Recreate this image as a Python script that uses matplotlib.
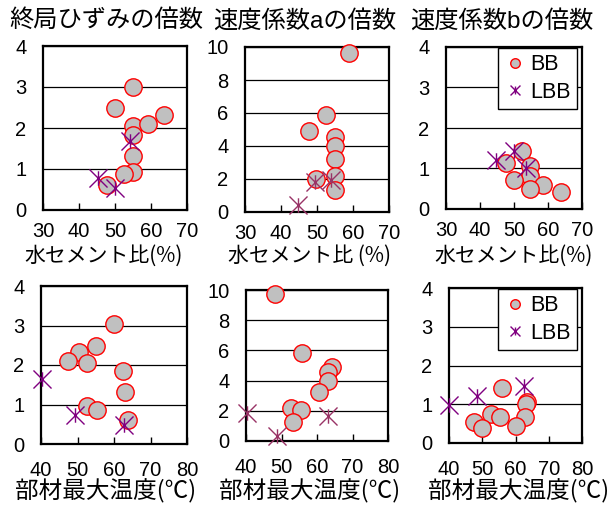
import matplotlib.pyplot as plt
from matplotlib.path import Path

plt.rcParams['font.family'] = ['Liberation Sans', 'Noto Sans CJK JP']

# water-cement ratio (%) vs. multiplier
wc_bb_strain = [55, 50, 55, 59.3, 63.7, 55, 55, 55, 52.5, 47.9]
strain_bb_wc = [3.0, 2.48, 2.05, 2.09, 2.31, 1.83, 1.32, 0.93, 0.89, 0.61]
wc_lbb_strain = [45.2, 50, 54.2]
strain_lbb_wc = [0.79, 0.53, 1.69]

wc_bb_a = [58.9, 52.4, 47.9, 54.9, 54.9, 54.9, 54.9, 49.8, 54.9]
a_bb_wc = [9.64, 5.86, 4.91, 4.55, 4.0, 3.23, 2.16, 1.98, 1.31]
wc_lbb_a = [44.8, 49.4, 53.9]
a_lbb_wc = [0.41, 1.82, 1.92]

wc_bb_b = [52.3, 47.6, 54.7, 54.7, 50.1, 58.6, 54.7, 63.7]
b_bb_wc = [1.44, 1.13, 1.05, 0.82, 0.72, 0.60, 0.50, 0.43]
wc_lbb_b = [44.7, 50.1, 53.5]
b_lbb_wc = [1.21, 1.44, 1.01]

# max member temperature (deg C) vs. multiplier
temp_bb_strain = [60.1, 55, 50.4, 47.3, 52.5, 62.6, 63.1, 52.5, 55.4, 63.7]
strain_bb_t = [3.04, 2.47, 2.32, 2.09, 2.05, 1.84, 1.32, 0.95, 0.87, 0.62]
temp_lbb_strain = [40.3, 49.3, 62.8]
strain_lbb_t = [1.65, 0.74, 0.49]

temp_bb_a = [48.1, 55.7, 64.2, 63.2, 63.1, 60.6, 52.8, 55.4, 53.1]
a_bb_t = [9.71, 5.85, 4.92, 4.55, 3.99, 3.27, 2.21, 2.05, 1.28]
temp_lbb_a = [40.3, 48.6, 63.2]
a_lbb_t = [1.83, 0.35, 1.68]

temp_bb_b = [55.9, 63.5, 63.1, 52.5, 55.4, 62.8, 47.5, 50, 60.1]
b_bb_t = [1.43, 1.07, 1.01, 0.75, 0.66, 0.68, 0.53, 0.40, 0.44]
temp_lbb_b = [40.1, 48.4, 62.6]
b_lbb_t = [0.97, 1.22, 1.46]

titles = ['終局ひずみの倍数', '速度係数aの倍数', '速度係数bの倍数']
wc_labels = ['水セメント比(%)', '水セメント比 (%)', '水セメント比(%)']
temp_label = '部材最大温度(℃)'

# X with a vertical stroke, like the spreadsheet "star" marker
star = Path([(-1, -1), (1, 1), (-1, 1), (1, -1), (0, -0.8), (0, 0.8)],
            [Path.MOVETO, Path.LINETO, Path.MOVETO, Path.LINETO,
             Path.MOVETO, Path.LINETO])

W, H = 610, 508
fig = plt.figure(figsize=(W / 100, H / 100), dpi=100)


def px_axes(left, top, right, bottom):
    return fig.add_axes([left / W, 1 - bottom / H, (right - left) / W, (bottom - top) / H])


def panel(ax, xb, yb, xl, yl, xlim, ylim, yticks, xpad, lbb_color, legend=False):
    ax.plot(xb, yb, 'o', ms=12.5, mfc='#c0c0c0', mec='red', mew=1,
            ls='none', clip_on=False, label='BB', zorder=3)
    ax.plot(xl, yl, marker=star, ms=13, mec=lbb_color, mew=1,
            ls='none', clip_on=False, label='LBB', zorder=4)
    ax.set_xlim(*xlim)
    ax.set_ylim(*ylim)
    ax.set_xticks(range(xlim[0], xlim[1] + 1, 10))
    ax.set_yticks(yticks)
    ax.yaxis.grid(True, color='black', lw=0.9)
    ax.set_axisbelow(True)
    for s in ax.spines.values():
        s.set_linewidth(1.6)
    ax.tick_params(axis='x', direction='in', length=5, width=1, pad=xpad, labelsize=14.5)
    ax.tick_params(axis='y', length=0, pad=12, labelsize=14.5)
    if legend:
        leg = ax.legend(loc='upper right', bbox_to_anchor=(0.965, 0.995), borderaxespad=0,
                        fontsize=15.5, markerscale=0.55, handletextpad=0.2,
                        handlelength=1.0, fancybox=False, framealpha=1,
                        borderpad=0.3, labelspacing=0.3)
        leg.get_frame().set_edgecolor('black')
        leg.get_frame().set_linewidth(1)


# top row: water-cement ratio
ax1 = px_axes(43, 46, 187, 210)
panel(ax1, wc_bb_strain, strain_bb_wc, wc_lbb_strain, strain_lbb_wc,
      (30, 70), (0, 4), range(0, 5), 9, '#800080')
ax2 = px_axes(245, 47, 389, 212)
panel(ax2, wc_bb_a, a_bb_wc, wc_lbb_a, a_lbb_wc,
      (30, 70), (0, 10), range(0, 11, 2), 9, '#993366')
ax3 = px_axes(446, 47, 582, 209)
panel(ax3, wc_bb_b, b_bb_wc, wc_lbb_b, b_lbb_wc,
      (30, 70), (0, 4), range(0, 5), 9, '#800080', legend=True)

# bottom row: max member temperature
ax4 = px_axes(41, 286, 187, 444)
panel(ax4, temp_bb_strain, strain_bb_t, temp_lbb_strain, strain_lbb_t,
      (40, 80), (0, 4), range(0, 5), 12, '#800080')
ax5 = px_axes(246, 290, 388, 441)
panel(ax5, temp_bb_a, a_bb_t, temp_lbb_a, a_lbb_t,
      (40, 80), (0, 10), range(0, 11, 2), 12, '#993366')
ax6 = px_axes(449, 288, 582, 443)
panel(ax6, temp_bb_b, b_bb_t, temp_lbb_b, b_lbb_t,
      (40, 80), (0, 4), range(0, 5), 12, '#800080', legend=True)

cjk = ['Noto Sans CJK JP']
for x, t in zip([106, 305, 502], titles):
    fig.text(x / W, 1 - 21 / H, t, ha='center', va='center', fontsize=17.5)
for x, t in zip([104, 309, 514], wc_labels):
    fig.text(x / W, 1 - 256 / H, t, ha='center', va='center', fontsize=15, family=cjk)
for x in [106, 310, 519]:
    fig.text(x / W, 1 - 491 / H, temp_label, ha='center', va='center', fontsize=17, family=cjk)

fig.savefig('out.png', dpi=100)
